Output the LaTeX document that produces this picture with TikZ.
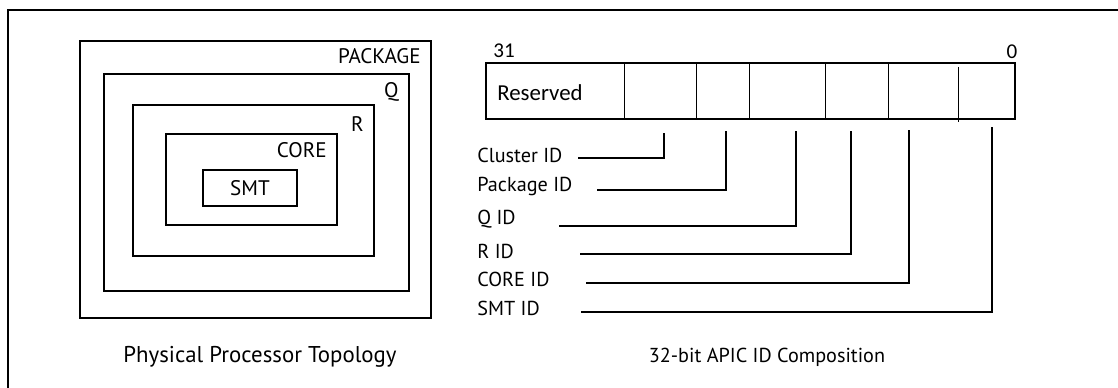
\documentclass[tikz,border=0pt]{standalone}
\usepackage{fontspec}
\setmainfont{PT Sans}
\newfontfamily\regfont{Carlito}
\usetikzlibrary{positioning, calc}
\tikzset{
  topobox/.style = {draw, line width=0.75pt},
  toplbl/.style  = {inner sep=0pt, anchor=east, font=\fontsize{12}{14}\selectfont},
  reglbl/.style  = {inner sep=0pt, font=\regfont\fontsize{13}{15}\selectfont},
  bitlbl/.style  = {inner sep=0pt, font=\regfont\fontsize{12}{14}\selectfont},
  idlbl/.style   = {inner sep=0pt, anchor=west, font=\fontsize{11.5}{13}\selectfont},
  lead/.style    = {line width=0.75pt},
  cellline/.style= {line width=0.4pt},
}

\begin{document}
\begin{tikzpicture}[x=0.02cm, y=-0.02cm]
  \useasboundingbox (0,0) rectangle (1118,388);

  % outer frame (cut by the page edge)
  \draw[line width=0.75pt] (8,388) -- (8,10) -- (1118,10);

  % nested topology boxes
  \foreach \nm/\xa/\ya/\xb/\yb/\txt/\ty in {
      pkg/80/41/431/318/PACKAGE/56,
      q/104/74/409/291/Q/92,
      r/133/105/374/256/R/124,
      core/166/134/337/225/CORE/150}{
    \draw[topobox] (\xa,\ya) rectangle (\xb,\yb);
    \node[toplbl] (\nm) at (\xb-10,\ty) {\txt};
  }
  \draw[topobox] (203,170) rectangle (297,206);
  \node[toplbl, anchor=center] (smt) at (250,188) {SMT};

  \node[toplbl, anchor=center, font=\fontsize{13}{15}\selectfont]
    (topocap) at (260,357) {Physical Processor Topology};

  % 32-bit register
  \draw[line width=0.75pt] (486,63) rectangle (1015,119);
  \foreach \x in {624,696,749,825,888}{
    \draw[cellline] (\x,63) -- (\x,119);
  }
  \draw[cellline] (958,67) -- (958,122);
  \node[reglbl, anchor=west] (resv) at (497,93) {Reserved};
  \node[bitlbl] (msb) at (504,51) {31};
  \node[bitlbl] (lsb) at (1012,52) {0};

  % field labels and leader lines
  \foreach \nm/\txt/\ty/\sx/\ly/\vx/\vy in {
      cluster/Cluster ID/155/578/158/664/133,
      package/Package ID/186/597/190/726/131,
      qid/Q ID/219/559/226/796/131,
      rid/R ID/251/580/254/851/131,
      coreid/CORE ID/279/586/283/909/130,
      smtid/SMT ID/308/581/312/992/127}{
    \node[idlbl] (\nm) at (477,\ty) {\txt};
    \coordinate (\nm-s) at (\sx,\ly);
    \coordinate (\nm-e) at (\vx,\vy);
    \draw[lead] (\nm-s) -| (\nm-e);
  }

  \node[toplbl, anchor=center, font=\fontsize{11.5}{13}\selectfont]
    (regcap) at (767,357) {32-bit APIC ID Composition};
\end{tikzpicture}
\end{document}
